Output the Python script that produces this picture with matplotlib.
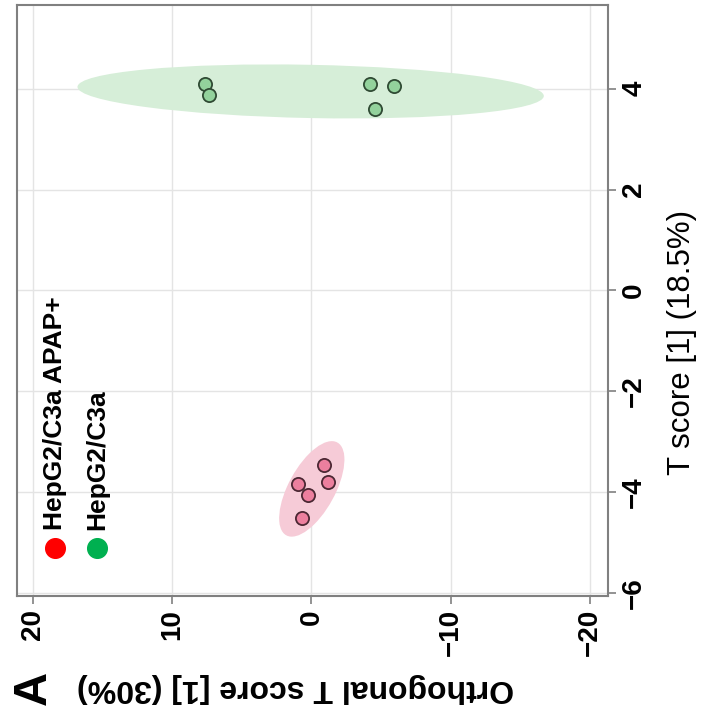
import numpy as np
import matplotlib
matplotlib.use('Agg')
import matplotlib.pyplot as plt
from matplotlib.patches import Ellipse

plt.rcParams['font.family'] = ['Liberation Sans', 'DejaVu Sans']

groups = ['HepG2/C3a APAP+', 'HepG2/C3a']
apap_t = [-3.47, -3.80, -3.84, -4.05, -4.52]
apap_orth = [-0.90, -1.16, 0.99, 0.27, 0.68]
ctrl_t = [4.10, 3.88, 4.10, 4.06, 3.59]
ctrl_orth = [7.67, 7.37, -4.22, -5.93, -4.60]

x_ticks = [20, 10, 0, -10, -20]
y_ticks = [-6, -4, -2, 0, 2, 4]

point_fill = ['#ec7f9e', '#93d29c']
point_edge = ['#4b2733', '#2f4a33']
ell_fill = ['#f6cbd7', '#d6eed8']
legend_col = ['#ff0000', '#00b050']


def conf_ellipse(ax, xs, ys, color):
    # 95% ellipse from the group covariance
    xs, ys = np.asarray(xs), np.asarray(ys)
    cov = np.cov(xs, ys)
    vals, vecs = np.linalg.eigh(cov)
    k = np.sqrt(5.991)
    angle = np.degrees(np.arctan2(vecs[1, 1], vecs[0, 1]))
    e = Ellipse((xs.mean(), ys.mean()), 2 * k * np.sqrt(vals[1]),
                2 * k * np.sqrt(vals[0]), angle=angle,
                facecolor=color, edgecolor='none', zorder=1)
    ax.add_patch(e)


fig = plt.figure(figsize=(7.08, 7.18), dpi=100)
ax = fig.add_axes([17 / 708, 1 - 596 / 718, 591 / 708, 591 / 718])

# plot is drawn turned a quarter turn: horizontal = orthogonal score
conf_ellipse(ax, apap_orth, apap_t, ell_fill[0])
conf_ellipse(ax, ctrl_orth, ctrl_t, ell_fill[1])
ax.scatter(apap_orth, apap_t, s=90, c=point_fill[0], edgecolors=point_edge[0],
           linewidths=1.3, zorder=3)
ax.scatter(ctrl_orth, ctrl_t, s=90, c=point_fill[1], edgecolors=point_edge[1],
           linewidths=1.3, zorder=3)

ax.set_xlim(21.15, -21.3)
ax.set_ylim(-6.06, 5.66)
ax.set_xticks(x_ticks)
ax.set_yticks(y_ticks)
ax.yaxis.tick_right()
ax.grid(True, color='#e4e4e4', linewidth=1, zorder=0)
ax.set_axisbelow(True)
for s in ax.spines.values():
    s.set_color('#808080')
    s.set_linewidth(1.5)
ax.tick_params(axis='both', colors='#808080', length=6, width=1.2,
               labelcolor='black', labelsize=20)
for lab in ax.get_xticklabels() + ax.get_yticklabels():
    lab.set_rotation(90)
    lab.set_fontweight('bold')
for lab in ax.get_yticklabels():
    lab.set_va('center')

# legend, turned like the rest
leg_x = [0.064, 0.135]
for lx, name, col in zip(leg_x, groups, legend_col):
    ax.scatter([lx], [0.081], s=200, c=col, transform=ax.transAxes,
               clip_on=False, zorder=4)
    ax.text(lx, 0.112, name, rotation=90, ha='center', va='bottom',
            fontsize=19, fontweight='bold', transform=ax.transAxes)

fig.text(682 / 708, 1 - 342 / 718, 'T score [1] (18.5%)', rotation=90,
         ha='center', va='center', fontsize=22.5)
fig.text(295 / 708, 1 - 688 / 718, 'Orthogonal T score [1] (30%)',
         rotation=180, ha='center', va='center', fontsize=23,
         fontweight='bold')
fig.text(34 / 708, 1 - 688 / 718, 'A', rotation=90, ha='center',
         va='center', fontsize=34, fontweight='bold')

fig.savefig('out.png', dpi=100)
